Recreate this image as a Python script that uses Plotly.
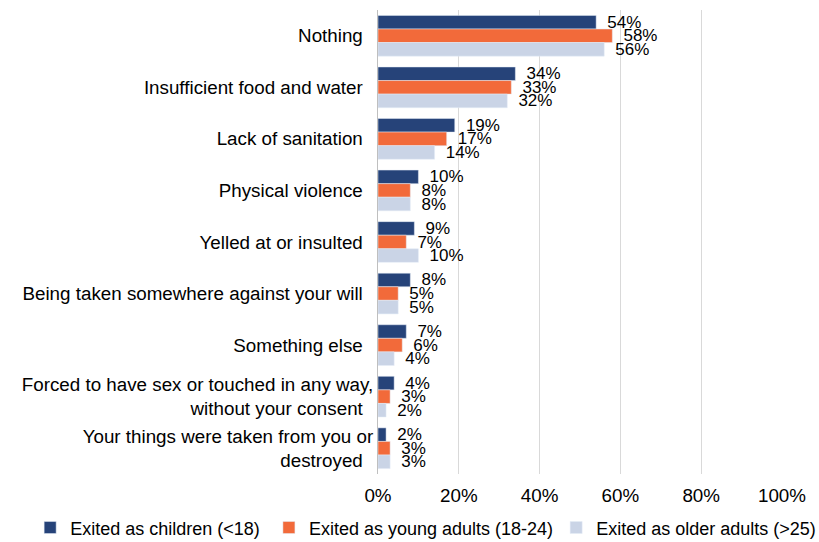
import plotly.graph_objects as go

categories = [
    "Nothing",
    "Insufficient food and water",
    "Lack of sanitation",
    "Physical violence",
    "Yelled at or insulted",
    "Being taken somewhere against your will",
    "Something else",
    "Forced to have sex or touched in any way,<br>without your consent",
    "Your things were taken from you or<br>destroyed",
]
series_names = [
    "Exited as children (<18)",
    "Exited as young adults (18-24)",
    "Exited as older adults (>25)",
]
children = [54, 34, 19, 10, 9, 8, 7, 4, 2]
young_adults = [58, 33, 17, 8, 7, 5, 6, 3, 3]
older_adults = [56, 32, 14, 8, 10, 5, 4, 2, 3]
colors = ["#264379", "#F26A3A", "#CAD4E6"]
legend_ids = ["legend", "legend2", "legend3"]
legend_x = [-0.861, -0.270, 0.441]

fig = go.Figure()
for name, vals, col, lid in zip(series_names, [children, young_adults, older_adults], colors, legend_ids):
    fig.add_trace(go.Bar(
        y=categories,
        x=[v / 100 for v in vals],
        name=name,
        orientation="h",
        marker=dict(color=col),
        text=["\u00a0\u2009" + f"{v}%" for v in vals],
        textposition="outside",
        constraintext="none",
        textfont=dict(size=17, color="#000000"),
        cliponaxis=False,
        legend=lid,
    ))

legend_common = dict(
    orientation="h",
    xanchor="left",
    y=-0.116,
    yanchor="middle",
    font=dict(size=18),
    itemwidth=30,
    borderwidth=0,
    bgcolor="rgba(0,0,0,0)",
)

fig.update_layout(
    width=819,
    height=542,
    barmode="group",
    bargap=0.21,
    bargroupgap=0,
    plot_bgcolor="white",
    paper_bgcolor="white",
    font=dict(family="Liberation Sans, Arial, sans-serif", size=18.8, color="#000000"),
    margin=dict(l=378, r=37, t=10, b=68, autoexpand=False),
    showlegend=True,
    legend=dict(x=legend_x[0], **legend_common),
    legend2=dict(x=legend_x[1], **legend_common),
    legend3=dict(x=legend_x[2], **legend_common),
    xaxis=dict(
        range=[0, 1.0],
        tickformat=".0%",
        dtick=0.2,
        showgrid=True,
        gridcolor="#D9D9D9",
        gridwidth=1,
        zeroline=False,
        showline=False,
        tickfont=dict(size=18.8),
        ticks="",
        ticklabelstandoff=8,
    ),
    yaxis=dict(
        autorange="reversed",
        showline=True,
        linecolor="#BFBFBF",
        linewidth=1,
        ticks="",
        ticksuffix="  ",
        tickfont=dict(size=18.8),
    ),
)

fig.write_html("out.html")
